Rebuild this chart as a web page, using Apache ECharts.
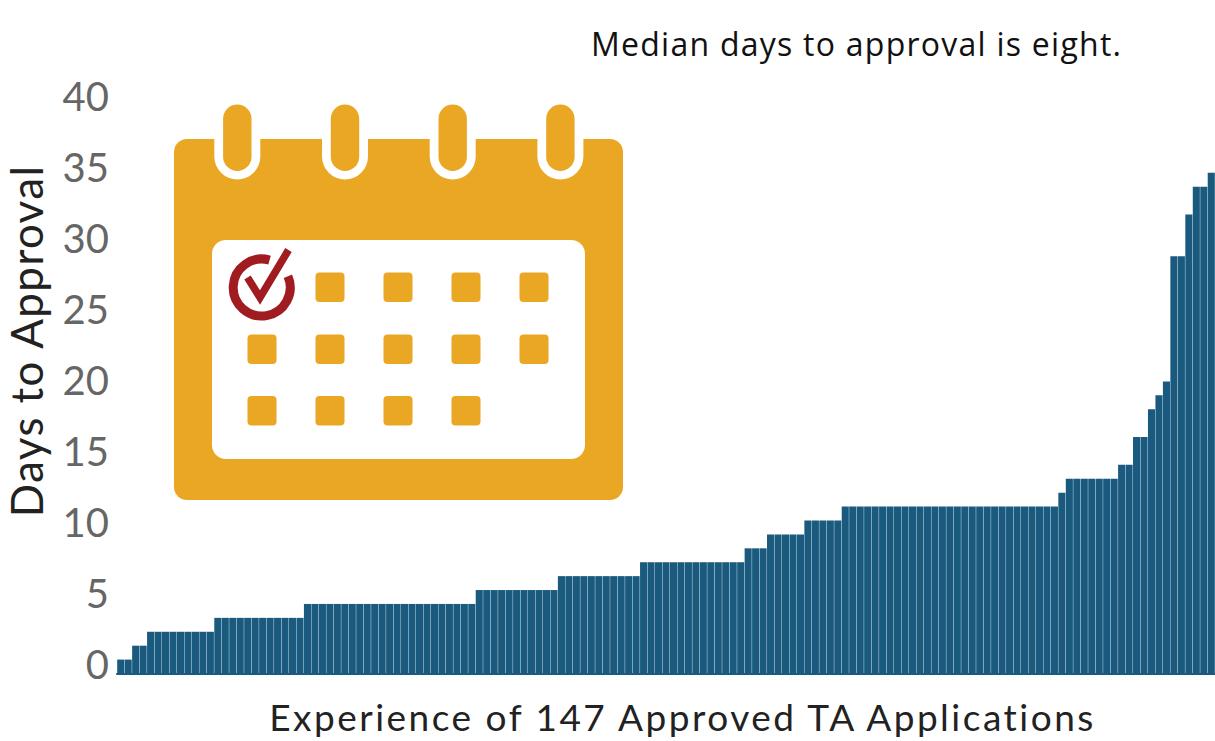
<!DOCTYPE html>
<html>
<head>
<meta charset="utf-8">
<title>Days to Approval</title>
<script src="https://cdn.jsdelivr.net/npm/echarts@6/dist/echarts.min.js"></script>
<style>
	html, body { margin: 0; padding: 0; background: #fff; }
	#chart { width: 1215px; height: 741px; }
	/* the svg renderer keeps text as <text>, so it can be spaced out like the original */
	#chart text[style*="32px"] { letter-spacing: 1.25px; }
	#chart text[style*="37px"] { letter-spacing: 2.5px; }
	#chart text[style*="44px"] { letter-spacing: 1.4px; }
</style>
</head>
<body>
<div id="chart"></div>
<script>
// days to approval for each of the 147 applications, sorted
const days = [
	1, 1,
	2, 2,
	3, 3, 3, 3, 3, 3, 3, 3, 3,
	4, 4, 4, 4, 4, 4, 4, 4, 4, 4, 4, 4,
	5, 5, 5, 5, 5, 5, 5, 5, 5, 5, 5, 5, 5, 5, 5, 5, 5, 5, 5, 5, 5, 5, 5,
	6, 6, 6, 6, 6, 6, 6, 6, 6, 6, 6,
	7, 7, 7, 7, 7, 7, 7, 7, 7, 7, 7,
	8, 8, 8, 8, 8, 8, 8, 8, 8, 8, 8, 8, 8, 8,
	9, 9, 9,
	10, 10, 10, 10, 10,
	11, 11, 11, 11, 11,
	12, 12, 12, 12, 12, 12, 12, 12, 12, 12, 12, 12, 12, 12, 12, 12, 12, 12, 12, 12, 12, 12, 12, 12, 12, 12, 12, 12, 12,
	13,
	14, 14, 14, 14, 14, 14, 14,
	15, 15,
	17, 17,
	19, 20, 21,
	30, 30,
	33,
	35, 35,
	36,
];
const applications = days.map((d, i) => i + 1);

const titleText = "Median days to approval is eight.";
const xName = "Experience of 147 Approved TA Applications";
const yName = "Days to Approval";

const blue = "#1b5a7f";
const gold = "#eaa723";
const red = "#a01c20";
const grey = "#666666";

// calendar icon, just decoration next to the bars
function calendarIcon() {
	const items = [];
	items.push({
		type: "rect",
		shape: { x: 174, y: 139, width: 449, height: 361, r: 13 },
		style: { fill: gold },
	});
	[237.3, 345, 452.7, 560.4].forEach((cx) => {
		items.push({
			type: "rect",
			shape: { x: cx - 23, y: 130, width: 46, height: 49.5, r: [0, 0, 23, 23] },
			style: { fill: "#fff" },
		});
		items.push({
			type: "rect",
			shape: { x: cx - 14.2, y: 104.5, width: 28.4, height: 66.5, r: 14.2 },
			style: { fill: gold },
		});
	});
	items.push({
		type: "rect",
		shape: { x: 212, y: 240, width: 373, height: 219, r: 14 },
		style: { fill: "#fff" },
	});
	const cols = [247.5, 315.5, 383.5, 451.5, 519.5];
	const rows = [
		[272.5, [1, 2, 3, 4]],
		[334.5, [0, 1, 2, 3, 4]],
		[396, [0, 1, 2, 3]],
	];
	rows.forEach(([y, idx]) => {
		idx.forEach((c) => {
			items.push({
				type: "rect",
				shape: { x: cols[c], y: y, width: 29, height: 29.5, r: 4 },
				style: { fill: gold },
			});
		});
	});
	items.push({
		type: "arc",
		shape: {
			cx: 261.7,
			cy: 287.5,
			r: 28.5,
			startAngle: (-23 * Math.PI) / 180,
			endAngle: (-74 * Math.PI) / 180,
			clockwise: true,
		},
		style: { fill: null, stroke: red, lineWidth: 9 },
	});
	items.push({
		type: "polyline",
		shape: { points: [[247.5, 277.5], [260, 297.5], [288.5, 250]] },
		style: { fill: null, stroke: red, lineWidth: 7.5, lineJoin: "miter" },
	});
	return items;
}

const chart = echarts.init(document.getElementById("chart"), null, { renderer: "svg" });

chart.setOption({
	animation: false,
	backgroundColor: "#fff",
	title: {
		text: titleText,
		left: 586,
		top: 22,
		textStyle: {
			color: "#111",
			fontFamily: "Open Sans",
			fontWeight: "normal",
			fontSize: 32,
		},
	},
	grid: [
		// bars
		{ left: 117, right: 0, top: 117.1, bottom: 741 - 673.5, outerBoundsMode: "none" },
		// the tick labels sit on their own scale, they do not line up with the bars
		{ left: 117, right: 0, top: 96, bottom: 741 - 664, outerBoundsMode: "none" },
	],
	xAxis: [
		{
			type: "category",
			gridIndex: 0,
			data: applications,
			axisTick: { show: false },
			axisLabel: { show: false },
			axisLine: { show: true, lineStyle: { color: blue, width: 2 } },
			name: xName,
			nameLocation: "middle",
			nameGap: 24,
			nameTextStyle: {
				color: "#222",
				fontFamily: "Lato",
				fontSize: 37,
				padding: [0, 0, 0, 33],
			},
		},
		{ type: "category", gridIndex: 1, show: false, data: [] },
	],
	yAxis: [
		{ type: "value", gridIndex: 0, min: 0, max: 40, show: false },
		{
			type: "value",
			gridIndex: 1,
			min: 0,
			max: 40,
			interval: 5,
			axisLine: { show: false },
			axisTick: { show: false },
			splitLine: { show: false },
			axisLabel: {
				color: grey,
				fontFamily: "Lato",
				fontSize: 40,
				margin: 8,
			},
			name: yName,
			nameLocation: "middle",
			nameGap: 69,
			nameTextStyle: {
				color: "#222",
				fontFamily: "Lato",
				fontSize: 44,
				padding: [0, 0, 0, 78],
			},
		},
	],
	series: [
		{
			name: yName,
			type: "bar",
			xAxisIndex: 0,
			yAxisIndex: 0,
			data: days,
			barCategoryGap: "5%",
			itemStyle: { color: blue },
		},
	],
	graphic: calendarIcon(),
});
</script>
</body>
</html>
